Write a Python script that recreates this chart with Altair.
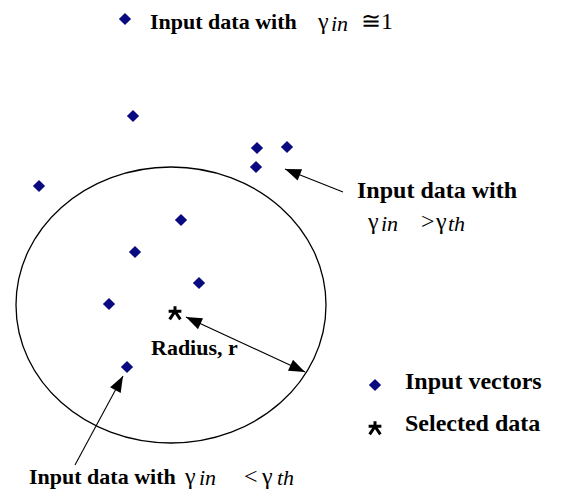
import math
import altair as alt
import pandas as pd

# ---- data (diagram coordinates, y grows downward) ----
vec_x = [133, 257, 287, 256, 39, 181, 135, 199, 109, 127, 125, 375]
vec_y = [116, 148, 147, 167, 186, 220, 252, 283, 304, 367, 19, 385]

star_x = [175, 375]
star_y = [313, 428]

circle_cx = [171]
circle_cy = [305]

line_x1 = [343, 186, 75]
line_y1 = [192, 317, 465]
line_x2 = [285, 305, 123]
line_y2 = [169, 372, 376]

head_tip_x = [285, 186, 305, 123]
head_tip_y = [169, 317, 372, 376]
head_from_x = [343, 305, 186, 75]
head_from_y = [192, 372, 317, 465]

bold_text = ["Input data with", "Input data with", "Radius, r",
             "Input vectors", "Selected data", "Input data with"]
bold_x = [150, 357, 151, 405, 405, 29]
bold_y = [29, 198, 355, 389, 431, 484]
bold_size = [22, 24, 22, 24, 24, 22]

reg_text = ["γ", "≅1", "γ", ">", "γ", "γ", "<", "γ"]
reg_x = [318, 361, 368, 421, 436, 185, 244, 262]
reg_y = [29, 29, 229, 229, 229, 484, 484, 484]

it_text = ["in", "in", "th", "in", "th"]
it_x = [331, 381, 448, 199, 277]
it_y = [31, 231, 231, 485, 485]

# ---- tables ----
R = 8
heads = []
for tx, ty, fx, fy in zip(head_tip_x, head_tip_y, head_from_x, head_from_y):
    dx, dy = tx - fx, ty - fy
    L = math.hypot(dx, dy)
    ux, uy = dx / L, dy / L
    heads.append({"x": tx - R * ux, "y": ty - R * uy,
                  "ang": math.degrees(math.atan2(ux, -uy)) % 360})
heads = pd.DataFrame(heads)

vecs = pd.DataFrame({"x": vec_x, "y": vec_y})
stars = pd.DataFrame({"x": star_x, "y": star_y})
circ = pd.DataFrame({"x": circle_cx, "y": circle_cy})
lines = pd.DataFrame({"x": line_x1, "y": line_y1, "x2": line_x2, "y2": line_y2})
btxt = pd.DataFrame({"t": bold_text, "x": bold_x, "y": bold_y, "s": bold_size})
rtxt = pd.DataFrame({"t": reg_text, "x": reg_x, "y": reg_y})
itxt = pd.DataFrame({"t": it_text, "x": it_x, "y": it_y})

xs = alt.Scale(domain=[8, 553])
ys = alt.Scale(domain=[8, 490], reverse=True)
X = lambda: alt.X("x:Q", scale=xs, axis=None)
Y = lambda: alt.Y("y:Q", scale=ys, axis=None)

ry = 138 / 155
k = 0.5523
ELLIPSE = (f"M -1 0 C -1 {-k*ry:.4f} {-k} {-ry:.4f} 0 {-ry:.4f} "
           f"C {k} {-ry:.4f} 1 {-k*ry:.4f} 1 0 "
           f"C 1 {k*ry:.4f} {k} {ry:.4f} 0 {ry:.4f} "
           f"C {-k} {ry:.4f} -1 {k*ry:.4f} -1 0 Z")
TRI = "M 0 -1 L 0.75 1 L -0.75 1 Z"
STAR = ("M -0.95 -0.25 L 0.95 -0.25 M 0 -1 L 0 -0.25 "
        "M 0 -0.25 L -0.8 0.95 M 0 -0.25 L 0.8 0.95")

FONT = "Liberation Serif"
NAVY = "#0a0a80"

ellipse = alt.Chart(circ).mark_point(
    shape=ELLIPSE, filled=False, stroke="#000", strokeWidth=1.3,
    size=310 * 310, opacity=1
).encode(x=X(), y=Y())

rules = alt.Chart(lines).mark_rule(color="#000", strokeWidth=1.1).encode(
    x=X(), y=Y(), x2="x2:Q", y2="y2:Q")

arrowheads = alt.Chart(heads).mark_point(
    shape=TRI, filled=True, color="#000", size=(2 * R) ** 2, opacity=1
).encode(x=X(), y=Y(), angle=alt.Angle("ang:Q", scale=None))

diamonds = alt.Chart(vecs).mark_point(
    shape="diamond", filled=True, color=NAVY, size=150, opacity=1
).encode(x=X(), y=Y())

starmk = alt.Chart(stars).mark_point(
    shape=STAR, filled=False, stroke="#000", strokeWidth=3, size=180, opacity=1
).encode(x=X(), y=Y())

bold = alt.Chart(btxt).mark_text(
    font=FONT, fontWeight="bold", align="left", baseline="alphabetic", color="#000"
).encode(x=X(), y=Y(), text="t:N", size=alt.Size("s:Q", scale=None))

reg = alt.Chart(rtxt).mark_text(
    font=FONT, fontSize=24, align="left", baseline="alphabetic", color="#000"
).encode(x=X(), y=Y(), text="t:N")

ital = alt.Chart(itxt).mark_text(
    font=FONT, fontSize=22, fontStyle="italic", align="left",
    baseline="alphabetic", color="#000"
).encode(x=X(), y=Y(), text="t:N")

chart = alt.layer(ellipse, rules, arrowheads, diamonds, starmk, bold, reg, ital).properties(
    width=545, height=482, padding=0, autosize="none", background="#ffffff"
).configure_view(stroke=None)

chart.save("out.html", embed_options={"renderer": "svg", "actions": False})
